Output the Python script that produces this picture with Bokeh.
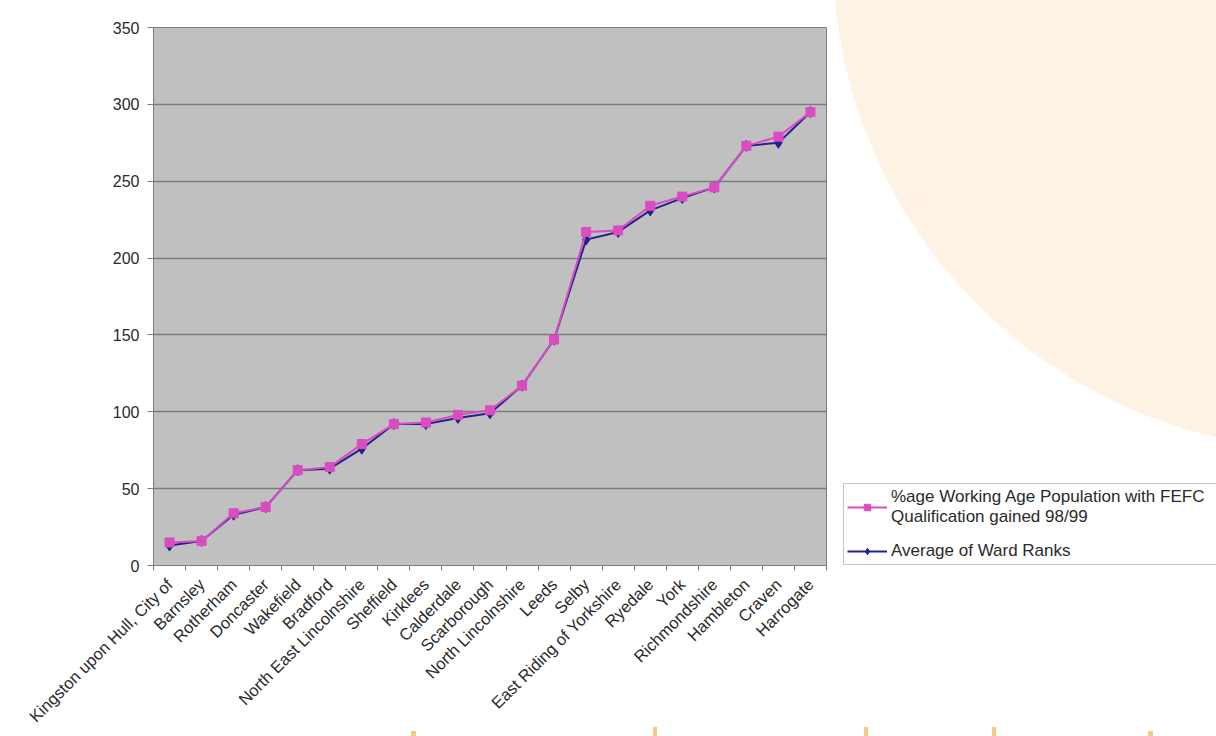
import math
from bokeh.plotting import figure
from bokeh.layouts import row
from bokeh.models import Range1d, FixedTicker, Legend, LegendItem
from bokeh.embed import file_html
from bokeh.resources import INLINE

# ---- data ----
categories = [
    "Kingston upon Hull, City of", "Barnsley", "Rotherham", "Doncaster",
    "Wakefield", "Bradford", "North East Lincolnshire", "Sheffield",
    "Kirklees", "Calderdale", "Scarborough", "North Lincolnshire", "Leeds",
    "Selby", "East Riding of Yorkshire", "Ryedale", "York", "Richmondshire",
    "Hambleton", "Craven", "Harrogate",
]
fefc_pct = [15, 16, 34, 38, 62, 64, 79, 92, 93, 98, 101, 117, 147,
            217, 218, 234, 240, 246, 273, 279, 295]
ward_rank_avg = [13, 16, 33, 38, 62, 63, 76, 92, 92, 96, 99, 117, 147,
                 212, 217, 231, 239, 246, 273, 275, 295]
y_ticks = [0, 50, 100, 150, 200, 250, 300, 350]
series_labels = ["%age Working Age Population with FEFC\nQualification gained 98/99",
                 "Average of Ward Ranks"]

FONT = "Liberation Sans"
TXT = "#2a2a2a"
PINK = "#d94cc2"
NAVY = "#22228a"
GRID = "#7d7d7d"

n = len(categories)
xs = list(range(1, n + 1))

# page background: cream disc top-right and small orange marks at the bottom
marks = [(411, 731, 5, 6), (653, 727, 4, 10), (864, 727, 4, 10),
         (992, 727, 4, 10), (1148, 731, 5, 6)]
layers = [f"linear-gradient(#f7c888,#f7c888) {x}px {y}px / {w}px {h}px no-repeat"
          for (x, y, w, h) in marks]
layers.append("radial-gradient(circle 495px at 1328px -45px, #fdf2e3 494px, #ffffff 496px) no-repeat")
bg = ", ".join(layers) + " #ffffff"

p = figure(width=840, height=736, output_backend="svg", toolbar_location=None,
           x_range=Range1d(0.5, n + 0.5), y_range=Range1d(y_ticks[0], y_ticks[-1]),
           min_border_left=153, min_border_right=14,
           min_border_top=27, min_border_bottom=171,
           background_fill_color="#c0c0c0", border_fill_color=None,
           outline_line_color=GRID, outline_line_width=1)

# series
rb_line = p.line(xs, ward_rank_avg, line_color=NAVY, line_width=2)
rb_pts = p.scatter(xs, ward_rank_avg, marker="diamond", size=11,
                   fill_color=NAVY, line_color=NAVY)
rp_line = p.line(xs, fefc_pct, line_color=PINK, line_width=2)
rp_pts = p.scatter(xs, fefc_pct, marker="square", size=9,
                   fill_color=PINK, line_color=PINK)

# axes
xa = p.xaxis[0]
xa.ticker = FixedTicker(ticks=xs, minor_ticks=[x - 0.5 for x in xs] + [n + 0.5])
xa.major_label_overrides = {x: c for x, c in zip(xs, categories)}
xa.major_label_orientation = math.pi / 4
xa.major_tick_out = 0
xa.major_tick_in = 0
xa.minor_tick_out = 5
xa.minor_tick_in = 0
xa.minor_tick_line_color = GRID
xa.axis_line_color = GRID
xa.major_label_standoff = 11
xa.major_label_text_font = FONT
xa.major_label_text_font_size = "16.5px"
xa.major_label_text_color = TXT

ya = p.yaxis[0]
ya.ticker = FixedTicker(ticks=y_ticks)
ya.major_tick_out = 6
ya.major_tick_in = 0
ya.minor_tick_line_color = None
ya.axis_line_color = GRID
ya.major_tick_line_color = GRID
ya.major_label_standoff = 8
ya.major_label_text_font = FONT
ya.major_label_text_font_size = "16px"
ya.major_label_text_color = TXT

p.xgrid.grid_line_color = None
p.ygrid.ticker = FixedTicker(ticks=y_ticks)
p.ygrid.grid_line_color = GRID
p.ygrid.grid_line_width = 1.5

# legend panel (separate canvas to the right of the chart; its ranges keep
# the series out of view so only the legend shows)
pl = figure(width=376, height=736, output_backend="svg", toolbar_location=None,
            x_range=Range1d(-2, -1), y_range=Range1d(-2, -1),
            x_axis_type=None, y_axis_type=None, min_border=0,
            background_fill_color=None, border_fill_color=None,
            outline_line_color=None)
pl.xgrid.visible = False
pl.ygrid.visible = False
lp_line = pl.line(xs, fefc_pct, line_color=PINK, line_width=2)
lp_pts = pl.scatter(xs, fefc_pct, marker="square", size=9, fill_color=PINK, line_color=PINK)
lb_line = pl.line(xs, ward_rank_avg, line_color=NAVY, line_width=2)
lb_pts = pl.scatter(xs, ward_rank_avg, marker="diamond", size=11, fill_color=NAVY, line_color=NAVY)

legend = Legend(items=[
    LegendItem(label=series_labels[0], renderers=[lp_line, lp_pts]),
    LegendItem(label=series_labels[1], renderers=[lb_line, lb_pts]),
], location=(3, 0), margin=0, padding=3, spacing=14,
    glyph_width=40, glyph_height=16, label_standoff=4, label_width=400,
    label_text_font=FONT, label_text_font_size="17px", label_text_color=TXT,
    label_height=16,
    border_line_color="#8a8a8a", border_line_width=1,
    background_fill_color="white", background_fill_alpha=1.0)
pl.add_layout(legend)

layout = row(p, pl, spacing=0)
layout.styles = {"background": bg}

open("out.html", "w").write(file_html(layout, INLINE))
